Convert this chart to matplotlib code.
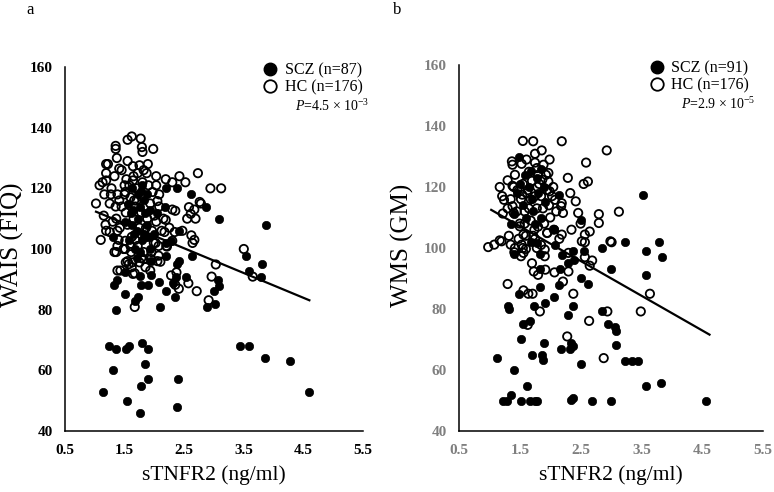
import matplotlib
matplotlib.use("Agg")
import matplotlib.pyplot as plt
from matplotlib.lines import Line2D

plt.rcParams['font.family'] = ['Liberation Serif', 'DejaVu Serif']
plt.rcParams['mathtext.fontset'] = 'custom'
plt.rcParams['mathtext.rm'] = 'Liberation Serif'
plt.rcParams['mathtext.it'] = 'Liberation Serif:italic'

# ---------------- Panel a: WAIS (FIQ) ----------------
a_hc = [(1.62,137.1),(1.55,136),(1.77,136.4),(1.35,134),(1.35,133),(1.79,133.6),(1.8,132),(1.98,133),
        (1.55,129),(1.37,130),(1.19,128),(1.22,128),(1.89,128),(1.64,127.3),(1.75,127.6),(1.19,125),
        (1.41,126.5),(1.45,126),(1.82,126),(1.87,125),(2.03,124),(2.42,124),(2.73,125),(1.33,124),
        (1.13,122),(1.08,121),(1.19,122.6),(1.53,123),(1.64,122.6),(1.8,122),(2.03,121),(2.19,123),
        (2.3,122),(2.52,122),(2.94,120),(3.12,120),(1.16,118),(1.27,118),(1.02,115),(1.25,115),
        (1.51,118.8),(1.41,116),(1.66,116),(1.97,118.8),(2.08,118),(2.05,115.8),(2.58,113.8),(2.76,115.5),
        (2.78,115),(2.67,113),(2.61,111.6),(2.55,110),(2.69,110),(2.3,113),(2.35,112.6),(1.15,111),
        (1.18,108),(1.19,106),(1.25,105.6),(1.38,106),(1.36,110),(1.1,103),(1.38,101),(2.03,109),
        (2.19,109.6),(2.17,105.6),(2.34,105.6),(2.47,106),(2.62,104.5),(2.67,103),(1.86,107),(1.68,103),
        (1.99,102),(2.07,101),(2.2,101),(3.5,100),(1.51,102.7),(1.36,99),(1.51,100),(1.61,99),
        (1.52,95.6),(1.57,95),(1.63,95.6),(1.75,95.6),(1.82,96.7),(1.94,96.7),(2.07,97.8),(2.1,95.8),
        (2.21,100.8),(2.3,102.7),(2.64,102),(1.64,91.8),(1.67,92),(1.93,92.9),(1.43,92.9),(1.38,92.9),
        (2.28,91.3),(2.37,92.3),(2.41,86.9),(2.57,88.7),(2.71,86.1),(2.96,90.9),(3.03,94.9),(2.91,83.1),
        (1.67,80.9),(3.65,90.9),(2.35,88.2),
        (1.45,114),(1.5,118),(1.52,112),(1.55,108),(1.58,121),(1.6,117),(1.62,104),(1.65,110),
        (1.68,114),(1.7,120),(1.72,101),(1.75,107),(1.78,112),(1.8,117),(1.82,99),(1.85,104),
        (1.88,110),(1.9,121),(1.93,115),(1.96,106),(2.0,111),(2.02,102),(2.08,114),(2.12,106),
        (1.48,100),(1.55,96),(1.42,107),(1.4,103),(1.38,118),(1.35,114),(1.3,109),(1.28,120),
        (1.65,124),(1.72,125),(1.6,101),(1.78,97),(1.85,94),(2.15,110),(2.25,107),(1.33,99),
        (1.5,121),(1.95,99),(2.05,96),(1.7,116),(1.62,94)]
a_scz = [(2.2,120),(2.38,120),(2.62,118),(2.87,113.8),(3.09,110),(3.87,107.8),(2.18,113.8),(1.72,118),
         (1.3,104),(2.42,106),(2.28,102.7),(2.2,102),(2.2,97.8),(2.38,95),(2.41,96),(2.63,97.8),
         (2.53,90.9),(2.37,90.7),(2.2,86.1),(2.32,88.7),(2.34,84.2),(2.07,89),(2.1,80.9),(1.94,91.3),
         (1.9,88),(1.75,91),(1.78,88),(1.72,84.2),(1.68,83),(1.51,85.2),(1.33,88),(1.37,89.8),
         (1.35,79.8),(1.51,92.3),(3.07,89.8),(3.08,87.7),(3.0,86.1),(3.02,82),(2.88,80.9),(3.54,97.8),
         (3.59,92.9),(3.79,90.9),(3.8,94.9),(1.24,68),(1.36,66.9),(1.52,66.9),(1.58,68),(1.79,68.9),
         (1.9,66.9),(1.85,62),(1.3,60.1),(1.13,53),(1.54,50),(1.77,54.9),(1.9,57),(1.75,45.9),
         (2.39,57),(2.38,48),(3.44,68),(3.59,68),(3.85,64),(4.27,63),(4.59,53),
         (1.55,115),(1.6,112),(1.62,108),(1.65,105),(1.68,100),(1.7,97),(1.72,110),(1.75,114),
         (1.78,119),(1.8,121),(1.82,116),(1.85,112),(1.87,108),(1.9,104),(1.92,100),(1.95,96),
         (1.58,103),(1.63,120),(1.7,106),(1.76,99),(1.83,105),(1.88,118),(1.92,113),(2.0,105),
         (1.5,109),(1.64,113),(1.8,103),(2.05,112)]
a_fit_x = [1.02, 4.6]
a_fit_y = [112.3, 83.1]

# ---------------- Panel b: WMS (GM) ----------------
b_hc = [(1.55,135.1),(1.72,135),(2.19,135),(2.93,132),(1.86,132),(1.75,130.9),(1.99,129),(2.59,128),
        (1.37,128.4),(1.38,127.3),(1.53,127.6),(1.61,129),(1.75,128),(1.78,126.2),(1.89,127.3),(1.97,124.6),
        (2.29,123),(2.55,121),(2.62,121.8),(2.33,118),(1.17,120),(1.3,122.2),(1.21,117),(1.24,115.8),
        (1.38,120.4),(1.46,119),(1.54,117.5),(1.63,119),(1.79,120),(1.87,122.4),(1.99,118.6),(2.05,120),
        (1.97,121.8),(2.08,115.8),(2.18,113.7),(2.19,114.7),(2.21,111.5),(2.42,115.3),(2.46,111.5),(2.5,108),
        (2.35,106),(2.19,104.4),(2.8,111.1),(2.8,108.2),(3.13,111.9),(2.57,104.4),(2.65,105.4),(1.56,104.4),
        (1.5,107.1),(1.38,113.7),(1.22,111.3),(1.4,111.5),(1.74,106),(1.95,104.9),(2.52,102.2),(2.99,102.2),
        (1.17,102.5),(1.42,100),(0.98,100.3),(1.08,101.1),(1.2,102.2),(1.35,101.1),(1.41,98.6),(1.53,101.1),
        (1.56,98.4),(1.6,99.7),(1.52,97.3),(1.7,95),(1.73,92.3),(1.8,91.2),(1.92,92.9),(2.07,92),
        (1.91,97.3),(1.91,99.5),(1.78,100),(2.21,89),(2.3,92.3),(2.3,98.4),(2.57,97),(2.65,94.2),
        (2.69,95.9),(2.57,101.9),(3.01,101.9),(2.38,85),(1.56,86.1),(1.64,85),(1.71,85),(1.3,88.2),
        (1.83,79.2),(2.64,76.1),(2.94,79.2),(3.49,79.2),(3.64,85),(2.28,71),(2.88,63.9),(1.63,74.8),
        (1.35,116),(1.4,120),(1.45,112),(1.5,108),(1.52,116),(1.55,121),(1.58,112),(1.6,104),
        (1.62,118),(1.65,113),(1.68,109),(1.7,122),(1.72,104),(1.75,117),(1.78,113),(1.8,107),
        (1.82,121),(1.85,117),(1.88,113),(1.9,108),(1.93,124),(1.95,119),(1.98,114),(2.0,110),
        (2.03,117),(2.06,106),(1.3,113),(1.32,104),(1.42,124),(1.48,103),(1.55,100),(1.65,125),
        (1.75,103),(1.85,101),(2.1,112),(2.15,103),(1.58,108),(1.68,116),(1.8,124),(1.95,105)]
b_scz = [(1.49,130),(1.68,125.1),(2.14,117.3),(3.53,117.3),(2.5,109.3),(2.06,106.2),
         (1.78,101.6),(2.08,101.1),(2.19,97.8),(2.38,98.9),(2.3,95),(2.39,96.2),(2.55,98.9),(2.85,100),
         (3.0,93.1),(3.23,101.9),(3.57,98.9),(3.79,101.9),(3.84,97),(1.4,98.1),(1.83,98.1),(1.83,93.1),
         (2.16,93.1),(2.14,88),(1.83,87.1),(1.49,85),(1.74,81),(1.92,82.1),(2.06,83.9),(2.38,81),
         (2.29,78.1),(2.5,90.1),(2.62,88.2),(2.86,79.2),(2.95,75.1),(3.06,74),(3.09,72.9),(3.09,68.2),
         (3.58,91.2),(1.3,81),(1.32,80),(1.56,75.1),(1.67,76.1),(1.52,70.1),(1.89,69),(2.34,68.8),
         (2.38,67.9),(2.17,66.9),(2.33,66.9),(1.7,65),(1.87,65),(1.88,63.3),(1.12,63.9),(1.4,60),
         (1.62,54.9),(2.5,62),(3.23,63.1),(3.34,63.1),(3.44,63.1),(3.57,54.9),(3.82,55.9),(1.23,49.9),
         (1.29,49.9),(1.35,51.8),(1.52,49.9),(1.67,49.9),(1.75,49.9),(1.79,49.9),(2.34,50.2),(2.38,50.9),
         (2.68,49.9),(3.0,49.9),(4.57,49.9),
         (1.45,118),(1.5,121),(1.55,114),(1.6,110),(1.65,120),(1.7,116),(1.72,112),(1.75,108),
         (1.78,123),(1.8,118),(1.85,110),(1.9,120),(1.92,115),(1.4,111),(1.35,108),(1.68,102),
         (1.58,124),(1.85,126)]
b_fit_x = [1.03, 4.62]
b_fit_y = [112.5, 71.6]

xticks = [0.5, 1.5, 2.5, 3.5, 4.5, 5.5]
xtick_labels = ['0.5', '1.5', '2.5', '3.5', '4.5', '5.5']
yticks = [40, 60, 80, 100, 120, 140, 160]

fig = plt.figure(figsize=(7.74, 4.92), dpi=100)
W, H = 774, 492
axa = fig.add_axes([65/W, 1-431/H, 298/W, 364/H])
axb = fig.add_axes([459/W, 1-431/H, 304/W, 366/H])

panels = [
    (axa, a_scz, a_hc, a_fit_x, a_fit_y, 'SCZ (n=87)', 'HC (n=176)',
     r'$\mathit{P}$=4.5 × 10$^{-3}$', 'black', 'WAIS (FIQ)', 12, 'a', 30, 1.025),
    (axb, b_scz, b_hc, b_fit_x, b_fit_y, 'SCZ (n=91)', 'HC (n=176)',
     r'$\mathit{P}$=2.9 × 10$^{-5}$', '#7f7f7f', 'WMS (GM)', 402, 'b', 397, 0.98),
]

for ax, scz, hc, fx, fy, lscz, lhc, ptxt, tcol, ylab, ylx, plab, plx, rx in panels:
    ax.scatter([p[0] for p in hc], [p[1] for p in hc], s=36, facecolors='none',
               edgecolors='black', linewidths=1.3, zorder=2)
    ax.scatter([p[0] for p in scz], [p[1] for p in scz], s=36, c='black',
               edgecolors='black', linewidths=0.5, zorder=3)
    ax.plot(fx, fy, color='black', lw=1.6, zorder=4)
    ax.set_xlim(0.5, 5.5)
    ax.set_ylim(40, 160)
    ax.set_xticks(xticks)
    ax.set_xticklabels(xtick_labels)
    ax.set_yticks(yticks)
    for s in ['top', 'right']:
        ax.spines[s].set_visible(False)
    for s in ['left', 'bottom']:
        ax.spines[s].set_linewidth(1.1)
    ax.tick_params(length=0, labelsize=11, labelcolor=tcol)
    ax.tick_params(axis='y', pad=9)
    ax.tick_params(axis='x', pad=9)
    for lab in ax.get_xticklabels() + ax.get_yticklabels():
        lab.set_fontweight('bold')
    handles = [Line2D([], [], ls='none', marker='o', ms=9, mfc='black', mec='black'),
               Line2D([], [], ls='none', marker='o', ms=9, mfc='none', mec='black', mew=1.3)]
    ax.legend(handles, [lscz, lhc], loc='upper right', frameon=False, fontsize=11.5,
              handletextpad=0.3, borderpad=0, labelspacing=0.1, handlelength=1.2,
              bbox_to_anchor=(rx, 1.035))
    ax.text(rx - 0.005, 0.893, ptxt, transform=ax.transAxes,
            ha='right', va='center', fontsize=10)
    fig.text(ylx/W, 1-245/H, ylab, rotation=90, ha='center', va='center', fontsize=18)
    ax.set_xlabel('sTNFR2 (ng/ml)', fontsize=15.5, labelpad=6)
    fig.text(plx/W, 1-10/H, plab, ha='center', va='center', fontsize=12)

fig.savefig('out.png', dpi=100)
